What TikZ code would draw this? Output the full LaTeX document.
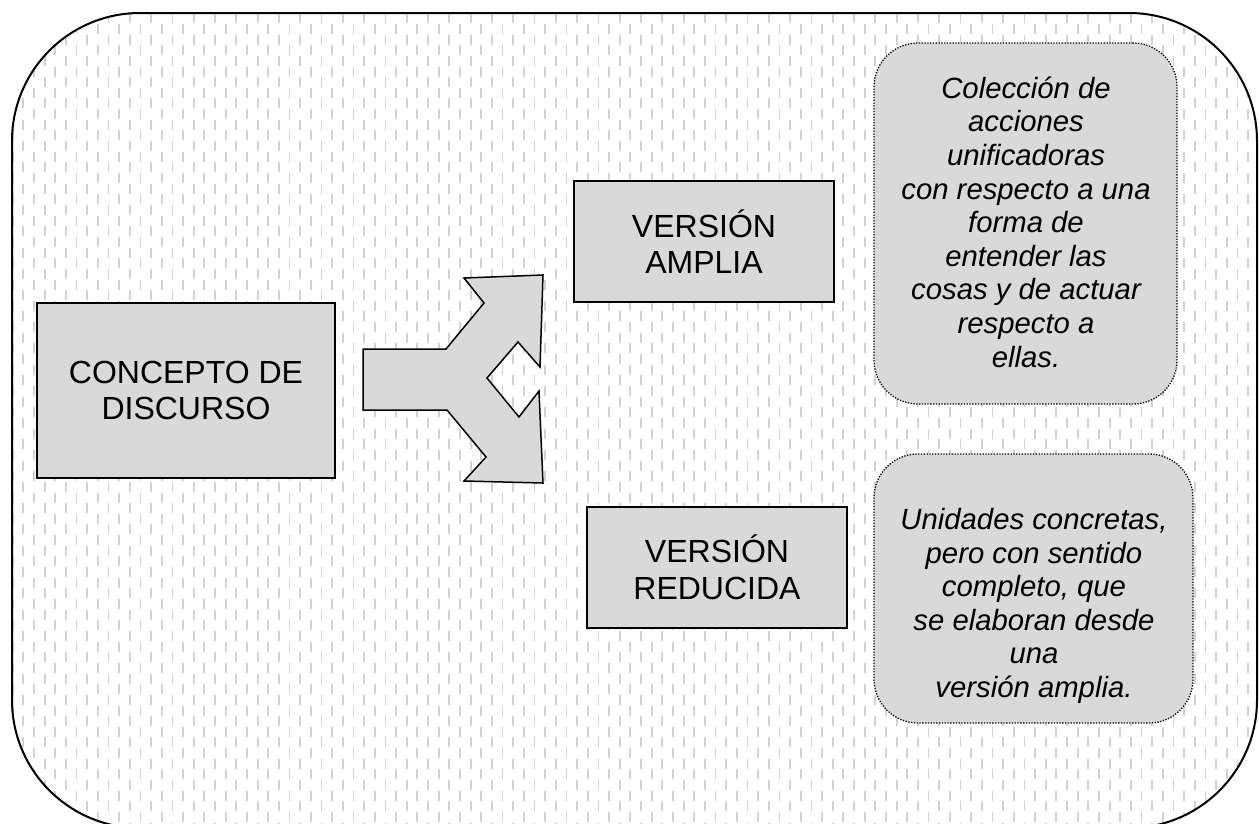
\documentclass[tikz,border=0pt]{standalone}
\usepackage{fontspec}
\setmainfont{Liberation Sans}
\definecolor{boxgray}{RGB}{217,217,217}
\definecolor{patgray}{RGB}{210,210,210}
\begin{document}
\begin{tikzpicture}[x=1pt,y=-1pt,
  box/.style={draw=black, line width=1.6pt, fill=boxgray, inner sep=0pt, align=center, font=\fontsize{32}{36.7}\selectfont},
  rbox/.style={draw=black, line width=1.3pt, dash pattern=on 1.3pt off 1.5pt, fill=boxgray, rounded corners=44pt, inner sep=0pt},
  itext/.style={align=center, inner sep=0pt, font=\fontsize{29.3}{33.6}\selectfont\itshape},
  pat/.style={draw=patgray, line width=1.8pt, dash pattern=on 10pt off 11.3pt},
  shapeline/.style={draw=black, line width=1.5pt, fill=boxgray, line join=miter}]
\useasboundingbox (0,0) rectangle (1259,823);
\begin{scope}
  \clip[rounded corners=128pt] (12,13) rectangle (1257,828);
  \foreach \i in {0,...,118} {
    \pgfmathsetmacro{\xx}{2+10.65*\i}
    \pgfmathsetmacro{\yy}{mod(\i,2)==1 ? 2.6 : -8.05}
    \draw[pat] (\xx,\yy) -- (\xx,840);
  }
\end{scope}
\draw[line width=2pt, rounded corners=128pt] (12,13) rectangle (1257,828);

\node[box, minimum width=298pt, minimum height=175pt] (concepto) at (186,390.5) {CONCEPTO DE\\DISCURSO};
\node[box, minimum width=260pt, minimum height=121pt] (amplia) at (704,241.5) {VERSIÓN\\AMPLIA};
\node[box, minimum width=260pt, minimum height=121pt] (reducida) at (717,567.5) {VERSIÓN\\REDUCIDA};

\draw[shapeline] (363,349) -- (446,349) -- (484,303) -- (464,278) -- (543,275) -- (540,367)
  -- (518,342) -- (487,378) -- (519,417) -- (539,391) -- (543,483) -- (464,481)
  -- (486,457) -- (447,410) -- (363,410) -- cycle;

\node[rbox, minimum width=303pt, minimum height=361pt] (def1) at (1025.5,223.5) {};
\node[rbox, minimum width=319pt, minimum height=269pt] (def2) at (1033.5,588.5) {};
\node[itext] (t1) at (1026,222) {Colección de\\acciones\\unificadoras\\con respecto a una\\forma de\\entender las\\cosas y de actuar\\respecto a\\ellas.};
\node[itext] (t2) at (1034,606) {Unidades concretas,\\pero con sentido\\completo, que\\se elaboran desde\\una\\versión amplia.};
\end{tikzpicture}
\end{document}
